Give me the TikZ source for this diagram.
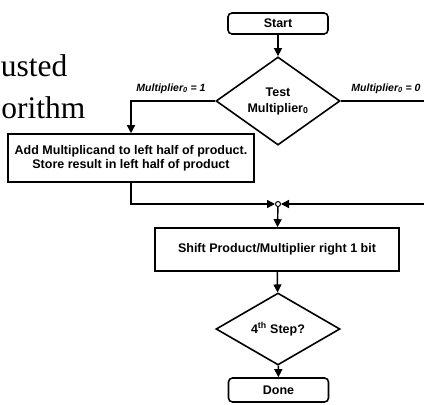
\documentclass[tikz,border=0pt]{standalone}
\usepackage{fontspec}
\setmainfont{Liberation Sans}
\newfontfamily\titlefont{Liberation Serif}
\usetikzlibrary{shapes.geometric,arrows.meta}

\tikzset{
  procbox/.style={draw,line width=1.6pt,inner sep=0pt,align=center,
    font=\bfseries\fontsize{12.5}{14}\selectfont},
  termbox/.style={procbox,rounded corners=4pt,minimum width=100pt},
  decbox/.style={draw,diamond,line width=1.6pt,inner sep=0pt,align=center,
    minimum width=124pt,minimum height=73pt,
    font=\bfseries\fontsize{12.5}{16}\selectfont},
  condlbl/.style={inner sep=0pt,anchor=base,
    font=\bfseries\itshape\fontsize{10.5}{12}\selectfont},
  titletext/.style={inner sep=0pt,anchor=base east,
    font=\titlefont\fontsize{31.5}{40}\selectfont},
  wire/.style={line width=1.4pt},
  arr/.style={wire,-{Triangle[length=8pt,width=8pt]}}
}

\begin{document}
\begin{tikzpicture}[x=1pt,y=-1pt]
  \useasboundingbox (0,0) rectangle (424,405);
  \node[titletext] (ttlA) at (67.5,76) {usted};
  \node[titletext] (ttlB) at (85.5,118) {orithm};

  \node[termbox,minimum height=21pt] (start) at (278,23.5) {Start};
  \node[decbox] (test) at (278,101) {Test\\Multiplier\textsubscript{0}};
  \node[procbox,minimum width=246pt,minimum height=48pt] (add) at (131,158)
    {Add Multiplicand to left half of product.\\Store result in left half of product};
  \node[circle,draw,fill=white,line width=1pt,inner sep=0pt,minimum size=5pt] (jn) at (278,204) {};
  \node[procbox,minimum width=244pt,minimum height=43pt] (shift) at (277,249.5)
    {Shift Product/Multiplier right 1 bit};
  \node[decbox,minimum height=72pt] (fourth) at (278,329) {4\textsuperscript{th} Step?};
  \node[termbox,minimum height=24pt] (done) at (278.5,390) {Done};

  \node[condlbl] (one) at (171,91) {Multiplier\textsubscript{0} = 1};
  \node[condlbl] (zero) at (386,91) {Multiplier\textsubscript{0} = 0};

  \coordinate (rtop) at (430,101);
  \coordinate (rbot) at (430,204);

  \draw[arr] (start) -- (test);
  \draw[arr] (test.west) -| (add.north);
  \draw[wire] (test.east) -- (rtop) -- (rbot);
  \draw[arr] (add.south) |- (jn);
  \draw[arr] (rbot) -- (jn);
  \draw[arr] (jn) -- (shift);
  \draw[arr] (shift) -- (fourth);
  \draw[arr] (fourth) -- (done);
\end{tikzpicture}
\end{document}
